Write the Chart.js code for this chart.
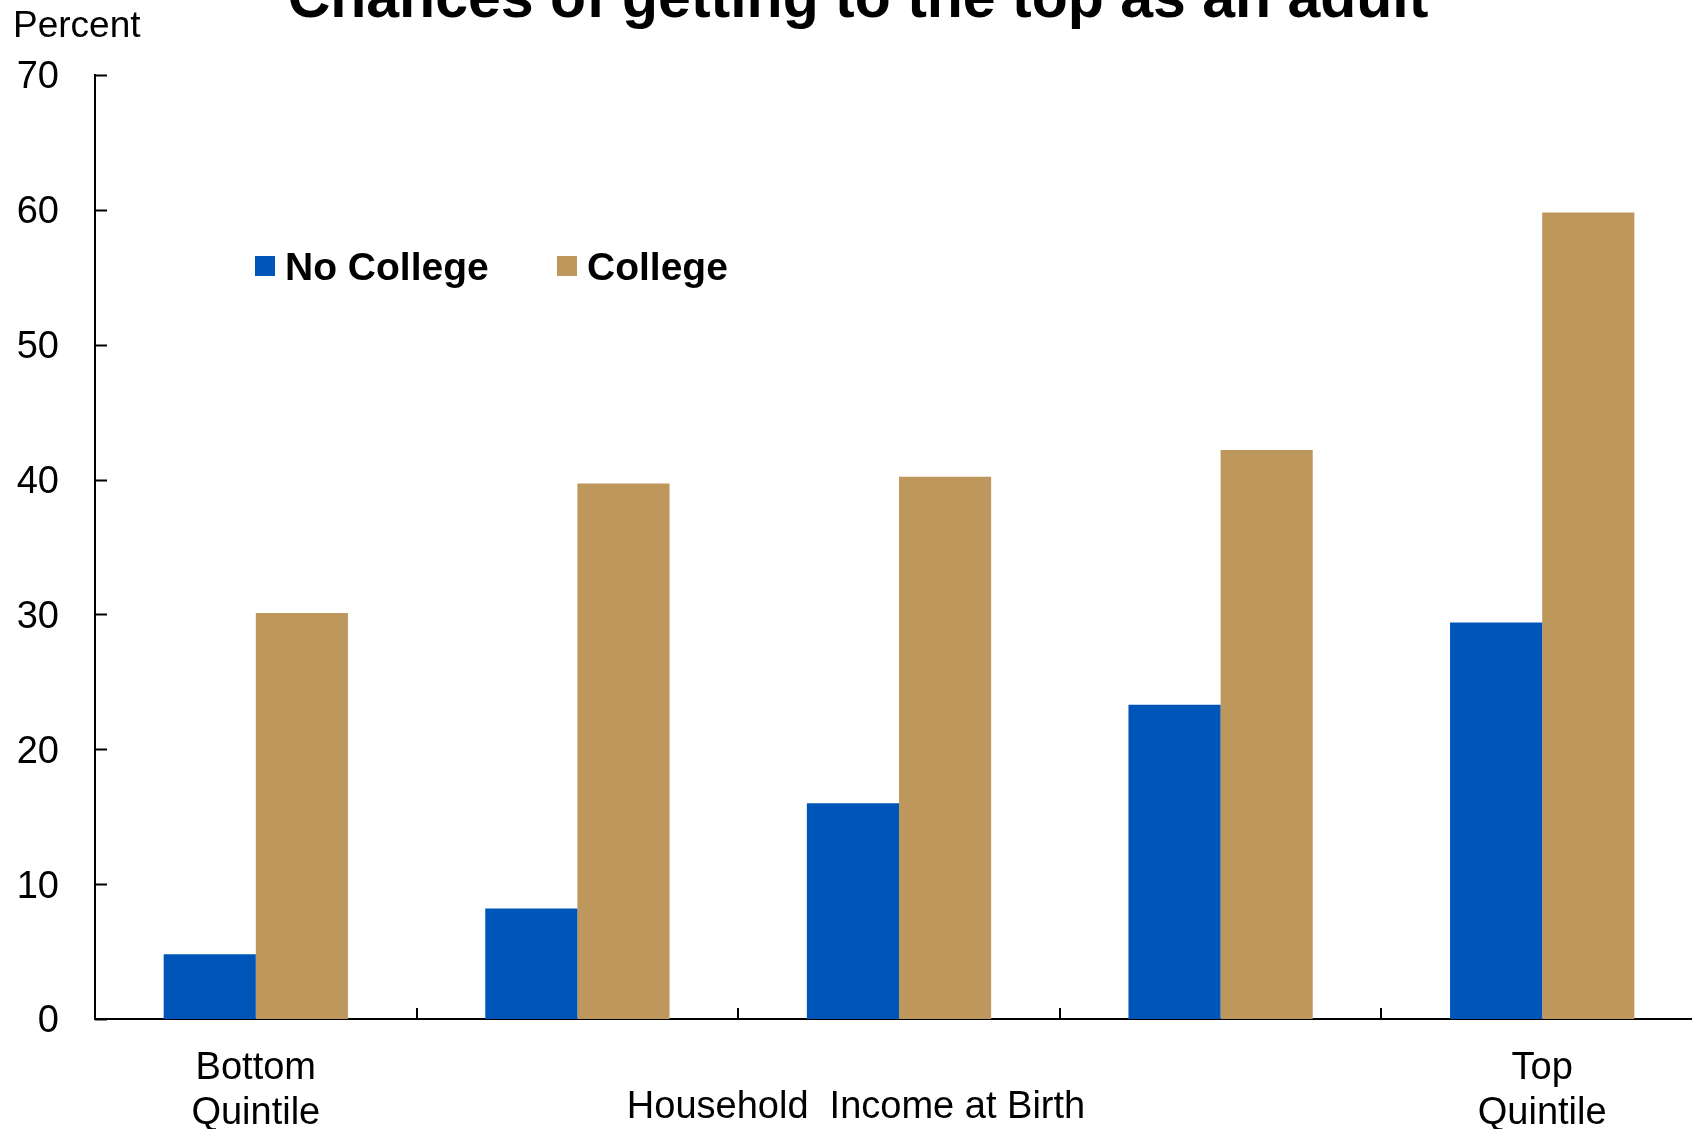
<!DOCTYPE html>
<html>
<head>
<meta charset="utf-8">
<script src="https://cdn.jsdelivr.net/npm/chart.js@4.4.1/dist/chart.umd.min.js"></script>
<style>
  html, body { margin: 0; padding: 0; background: #fff; overflow: hidden; }
  #topChart { display: block; }
</style>
</head>
<body>
<canvas id="topChart" width="1720" height="1129"></canvas>
<script>
const quintiles = ["Bottom Quintile", "Second Quintile", "Middle Quintile", "Fourth Quintile", "Top Quintile"];
const quintileLabels = [["Bottom", "Quintile"], "", "", "", ["Top", "Quintile"]];
const noCollege = [4.8, 8.2, 16.0, 23.3, 29.4];
const college = [30.1, 39.7, 40.2, 42.2, 59.8];
const yTicks = [0, 10, 20, 30, 40, 50, 60, 70];

(() => {
  const ctx = document.querySelector("#topChart");
  const FONT = "'Liberation Sans', Arial, sans-serif";

  // title, "Percent", legend, axis title and the inward tick marks
  const extras = {
    id: "extras",
    afterDraw(chart) {
      const c = chart.ctx;
      const x = chart.scales.x;
      const y = chart.scales.y;
      const area = chart.chartArea;
      c.save();
      c.strokeStyle = "#000";
      c.lineWidth = 2;

      // y ticks point into the plot
      yTicks.forEach((v) => {
        const py = Math.round(y.getPixelForValue(v)) + 0.5;
        c.beginPath();
        c.moveTo(area.left, py);
        c.lineTo(area.left + 12, py);
        c.stroke();
      });

      // x ticks sit between categories
      for (let i = 0; i < quintiles.length - 1; i++) {
        const px = Math.round((x.getPixelForValue(i) + x.getPixelForValue(i + 1)) / 2);
        c.beginPath();
        c.moveTo(px, area.bottom);
        c.lineTo(px, area.bottom - 11);
        c.stroke();
      }

      c.fillStyle = "#000";
      c.textBaseline = "alphabetic";
      c.textAlign = "center";
      c.font = "bold 59px " + FONT;
      c.fillText("Chances of getting to the top as an adult", 858, 17);

      c.textBaseline = "middle";
      c.textAlign = "left";
      c.font = "37px " + FONT;
      c.fillText("Percent", 13, 27);

      c.textAlign = "center";
      c.font = "38px " + FONT;
      c.fillText("Household  Income at Birth", 856, 1108);

      // legend
      c.textAlign = "left";
      c.font = "bold 39px " + FONT;
      const legendX = [255, 557];
      chart.data.datasets.forEach((ds, i) => {
        c.fillStyle = ds.backgroundColor;
        c.fillRect(legendX[i], 256, 20, 20);
        c.fillStyle = "#000";
        c.fillText(ds.label, legendX[i] + 30, 269);
      });
      c.restore();
    },
  };

  new Chart(ctx, {
    type: "bar",
    data: {
      labels: quintiles,
      datasets: [
        {
          label: "No College",
          data: noCollege,
          backgroundColor: "#0055B8",
        },
        {
          label: "College",
          data: college,
          backgroundColor: "#BE975C",
        },
      ],
    },
    options: {
      responsive: false,
      devicePixelRatio: 1,
      animation: false,
      layout: {
        padding: { top: 75, right: 17, left: 0, bottom: 0 },
      },
      datasets: {
        bar: {
          categoryPercentage: 0.573,
          barPercentage: 1,
        },
      },
      plugins: {
        legend: { display: false },
        title: { display: false },
        tooltip: { enabled: false },
      },
      scales: {
        x: {
          grid: { display: false, drawTicks: false },
          border: { display: true, color: "#000", width: 2 },
          afterFit: (scale) => {
            scale.height = 110;
          },
          ticks: {
            color: "#000",
            padding: 27,
            maxRotation: 0,
            autoSkip: false,
            font: { family: FONT, size: 38, lineHeight: 1.18 },
            callback: (value, index) => quintileLabels[index],
          },
        },
        y: {
          min: 0,
          max: 70,
          grid: { display: false, drawTicks: false },
          border: { display: true, color: "#000", width: 2 },
          afterFit: (scale) => {
            scale.width = 95;
          },
          afterBuildTicks: (scale) => {
            scale.ticks = yTicks.map((v) => ({ value: v }));
          },
          ticks: {
            color: "#000",
            padding: 36,
            labelOffset: 3,
            font: { family: FONT, size: 38 },
          },
        },
      },
    },
    plugins: [extras],
  });
})();
</script>
</body>
</html>
